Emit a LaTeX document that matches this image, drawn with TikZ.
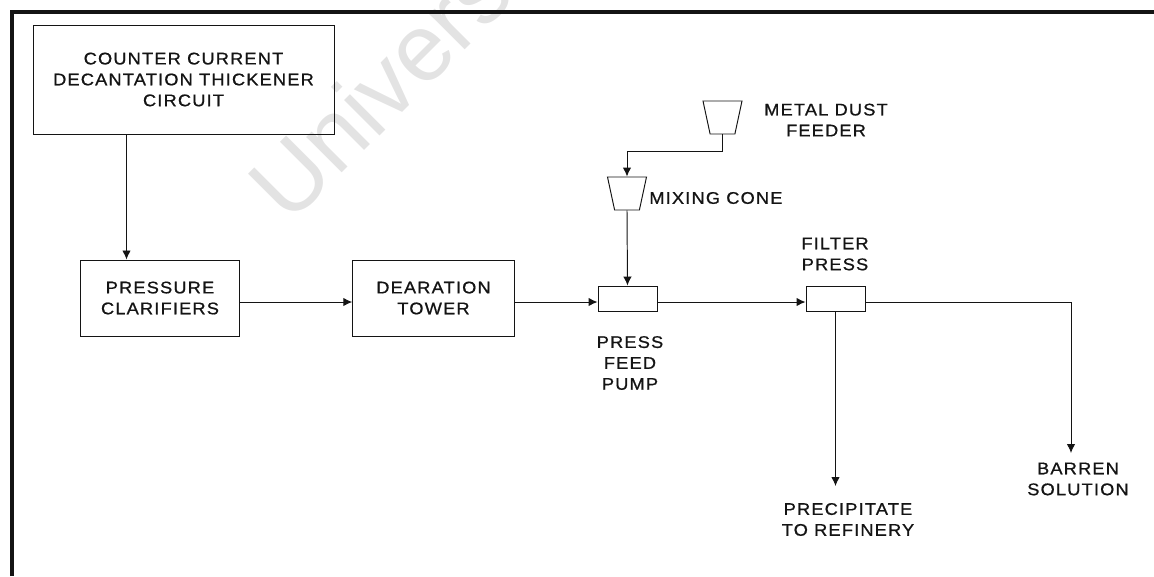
\documentclass[tikz,border=0pt]{standalone}
\usepackage{fontspec}
\setmainfont{Liberation Sans}
\newfontfamily\labelfont[LetterSpace=7, FakeStretch=1.08, FakeBold=0.8]{Liberation Sans}
\usetikzlibrary{shapes.geometric, arrows.meta, calc, positioning}
\definecolor{wmgray}{HTML}{E3E3E3}
\definecolor{inkblack}{HTML}{141414}
\tikzset{
  % unit boxes
  unitbox/.style={draw=inkblack, line width=0.55pt, align=center, inner sep=0pt,
    font=\labelfont\fontsize{9.6pt}{11.9pt}\selectfont, text=inkblack},
  ccdbox/.style={unitbox, minimum width=60.2mm, minimum height=21.8mm},
  plantbox/.style={unitbox, minimum width=31.8mm, minimum height=15.2mm},
  pumpbox/.style={unitbox, minimum width=11.8mm, minimum height=5mm},
  % hoppers and cones
  cone/.style={draw=inkblack, line width=0.55pt, trapezium, shape border rotate=180, trapezium stretches=true,
    minimum width=7.8mm, minimum height=6.6mm, inner sep=1pt, trapezium angle=74},
  % labels
  lbl/.style={font=\labelfont\fontsize{9.6pt}{11.9pt}\selectfont, align=center, text=inkblack, inner sep=0pt},
  % connectors
  flowline/.style={line width=0.55pt, inkblack, -{Latex[length=1.8mm, width=1.7mm]}},
  frameline/.style={line width=0.7mm, inkblack},
  watermark/.style={text=wmgray, font=\fontsize{54pt}{54pt}\selectfont, rotate=45, anchor=base west, inner sep=0pt},
}

\begin{document}
\begin{tikzpicture}[x=0.2mm, y=-0.2mm]
  \useasboundingbox (0,0) rectangle (1154,576);
  \begin{scope}
    \clip (0,0) rectangle (1154,576);
    \node[watermark] (wmark) at (289,226) {University};
  \end{scope}
  \draw[frameline] (12,576) -- (12,12) -- (1154,12);

  \coordinate (flow) at (0,302);
  \node[ccdbox] (ccd) at (183.5,79.5) {COUNTER CURRENT\\DECANTATION THICKENER\\CIRCUIT};
  \node[plantbox] (clar) at (160,298) {PRESSURE\\CLARIFIERS};
  \node[plantbox, minimum width=32.3mm] (dear) at (433.5,298) {DEARATION\\TOWER};
  \node[pumpbox] (pump) at (627.5,298.5) {};
  \node[pumpbox] (filter) at (835.5,298.5) {};
  \node[cone] (feeder) at (722.5,117.5) {};
  \node[cone] (mix) at (627,193.5) {};

  \node[lbl] (feederlbl) at (826,120) {METAL DUST\\FEEDER};
  \node[lbl, anchor=west] (mixlbl) at (649,198) {MIXING CONE};
  \node[lbl] (filterlbl) at (835,254) {FILTER\\PRESS};
  \node[lbl] (pumplbl) at (630,363) {PRESS\\FEED\\PUMP};
  \node[lbl] (preclbl) at (848,519.5) {PRECIPITATE\\TO REFINERY};
  \node[lbl] (barrenlbl) at (1078,479) {BARREN\\SOLUTION};

  \coordinate (clarin) at (126.5,259.5);
  \coordinate (precin) at (835.5,486);
  \coordinate (barrenin) at (1071,453);

  \draw[flowline] (ccd.south -| clarin) -- (clarin);
  \draw[flowline] (clar.east |- flow) -- (dear.west |- flow);
  \draw[flowline] (dear.east |- flow) -- (pump.west |- flow);
  \draw[flowline] (pump.east |- flow) -- (filter.west |- flow);
  \draw[flowline] (feeder.south) -- ++(0,17) -| (mix.north);
  \draw[flowline] (mix.south) -- (pump.north);
  \draw[flowline] (filter.south) -- (precin);
  \draw[flowline] (filter.east |- flow) -| (barrenin);
\end{tikzpicture}
\end{document}
